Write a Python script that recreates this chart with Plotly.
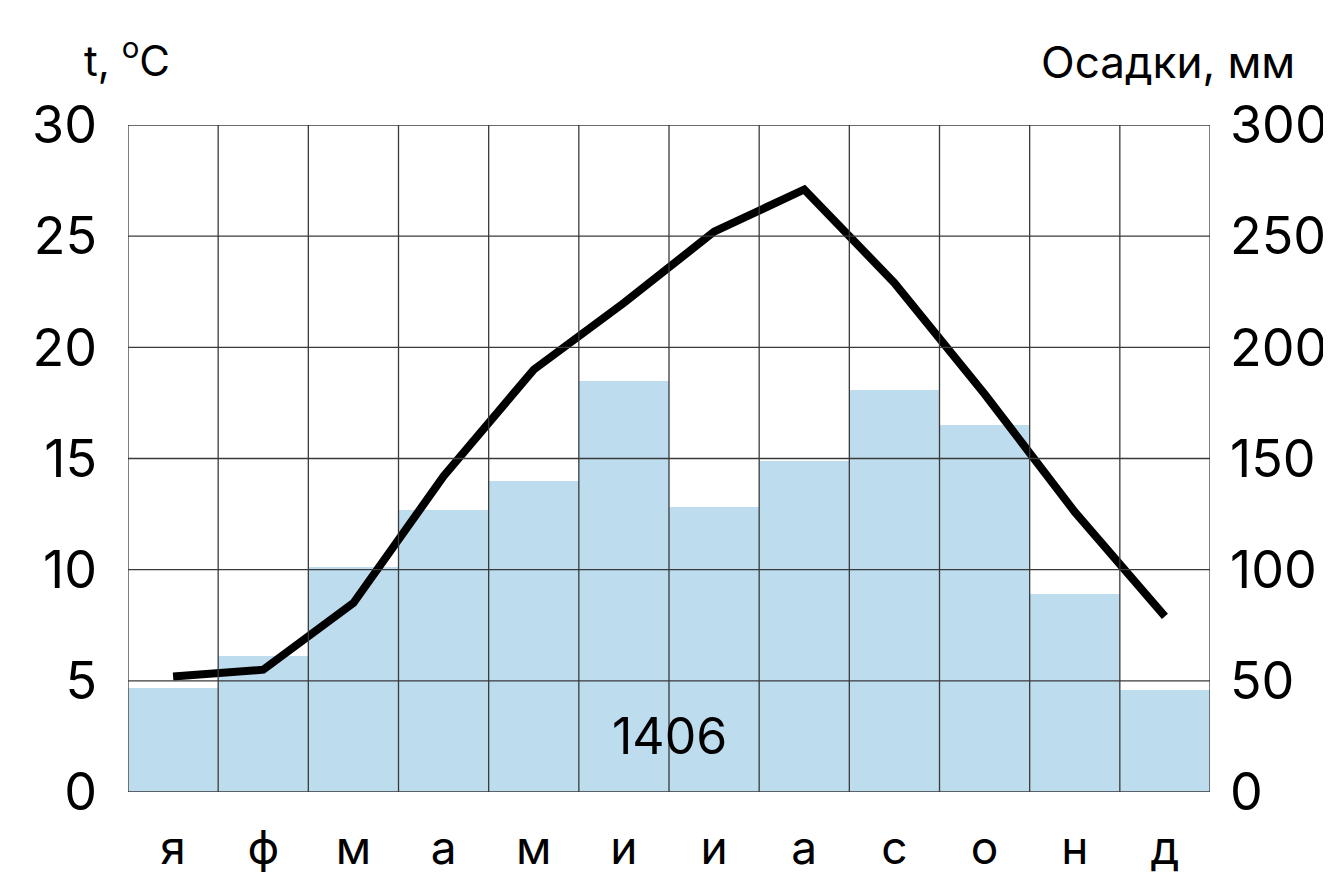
import plotly.graph_objects as go

months = ["я", "ф", "м", "а", "м", "и", "и", "а", "с", "о", "н", "д"]
temp_c = [5.2, 5.5, 8.5, 14.2, 19.0, 22.0, 25.2, 27.1, 22.9, 17.9, 12.6, 7.9]
precip_mm = [47, 61, 101, 127, 140, 185, 128, 149, 181, 165, 89, 46]
total_precip = "1406"
t_ticks = [0, 5, 10, 15, 20, 25, 30]
p_ticks = [0, 50, 100, 150, 200, 250, 300]

FONT = "Inter"
xs = list(range(len(months)))

fig = go.Figure()
# precipitation bars on the base (right-hand) axis
fig.add_trace(go.Bar(x=xs, y=precip_mm, yaxis="y", width=1.0,
                     marker=dict(color="#BDDCEE", line=dict(width=0)),
                     showlegend=False, hoverinfo="skip"))
# temperature line on the overlaying (left-hand) axis so it is drawn on top
fig.add_trace(go.Scatter(x=xs, y=temp_c, yaxis="y2", mode="lines",
                         line=dict(color="black", width=8),
                         showlegend=False, hoverinfo="skip"))

shapes = []
for i in range(len(months) + 1):
    shapes.append(dict(type="line", xref="x", yref="paper", x0=i - 0.5, x1=i - 0.5,
                       y0=0, y1=1, line=dict(color="#3a3a3a", width=1.3), layer="above"))
for t in t_ticks:
    shapes.append(dict(type="line", xref="paper", yref="y2", x0=0, x1=1, y0=t, y1=t,
                       line=dict(color="#3a3a3a", width=1.3), layer="above"))

fig.update_layout(
    width=1323, height=868,
    margin=dict(l=120, r=121, t=117, b=84),
    paper_bgcolor="white", plot_bgcolor="white",
    font=dict(family=FONT, color="black"),
    bargap=0,
    shapes=shapes,
    xaxis=dict(range=[-0.5, len(months) - 0.5], tickvals=xs, ticktext=months,
               showgrid=False, zeroline=False, showline=False, ticks="",
               automargin=False,
               tickfont=dict(size=46, family=FONT), ticklabelstandoff=25),
    yaxis=dict(range=[0, 300], tickvals=p_ticks, side="right",
               showgrid=False, zeroline=False, showline=False, ticks="",
               automargin=False,
               tickfont=dict(size=52, family=FONT), ticklabelstandoff=19),
    yaxis2=dict(range=[0, 30], tickvals=t_ticks, overlaying="y", side="left",
                showgrid=False, zeroline=False, showline=False, ticks="",
                automargin=False,
                tickfont=dict(size=52, family=FONT), ticklabelstandoff=30),
    annotations=[
        dict(text=total_precip, x=5.5, y=2.5, xref="x", yref="y2", showarrow=False,
             font=dict(size=50, family=FONT, color="black")),
        dict(text="t, <sup>o</sup>C", x=-0.001, y=1.1, xref="paper", yref="paper",
             xanchor="center", yanchor="middle", showarrow=False,
             font=dict(size=42, family=FONT, color="black")),
        dict(text="Осадки, мм", x=1.0804, y=1.094, xref="paper", yref="paper",
             xanchor="right", yanchor="middle", showarrow=False,
             font=dict(size=44, family=FONT, color="black")),
    ],
)

fig.write_html("out.html")
